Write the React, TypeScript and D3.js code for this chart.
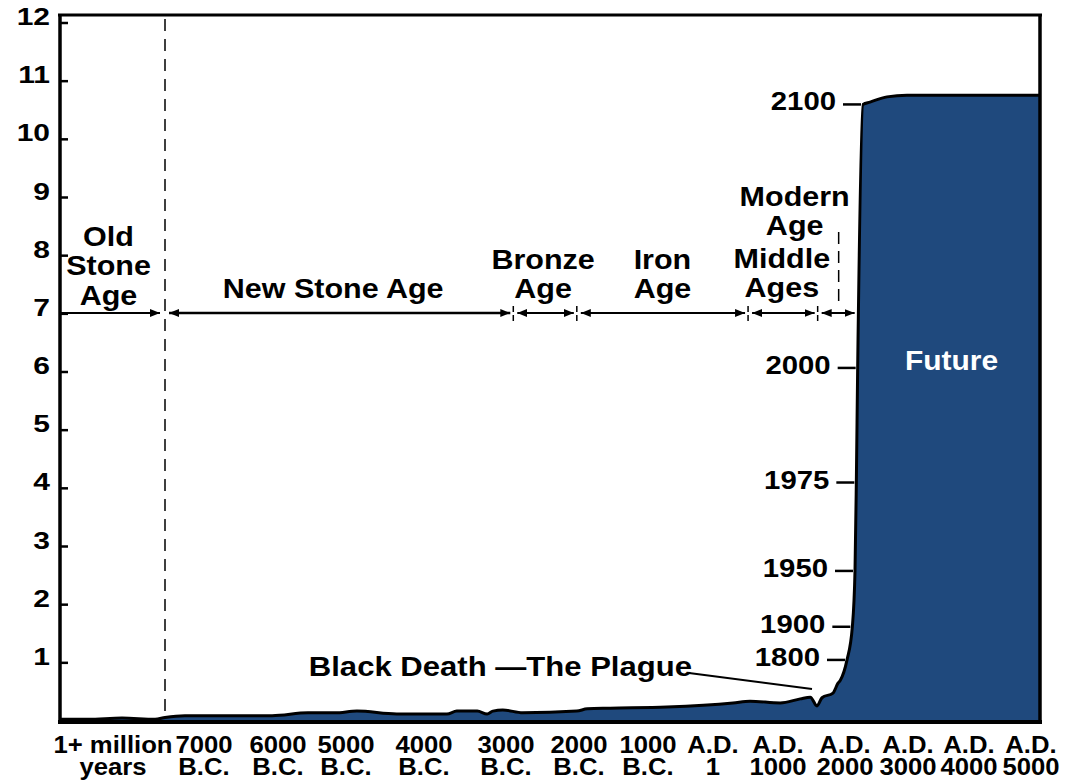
import * as d3 from "d3";

// timeline knots (years) and where the chart puts them; the chart is not to scale
const yearKnots = [-1000000, -8000, -7000, -6000, -5000, -4000, -3000, -2000, -1000, 1, 1000, 1350, 1800, 2100, 3000, 4000, 5000];
const knotPx = [60, 165, 204, 278, 346, 424, 506, 579, 648, 713, 778, 817, 847, 863, 908, 969, 1031];

// world population, billions
const popYears = [-1000000, -735000, -414000, -102000, -8000, -7490, -6990, -6080, -5560, -5160, -4860, -4350, -3720, -3600, -3350, -3230, -3160, -3040, -2770, -2030, -1880, -1550, -710, 310, 570, 1020, 1200, 1290, 1350, 1425, 1590, 1665, 1700, 1800, 1900, 1950, 1975, 2000, 2100, 2240, 2580, 2980, 5145];
const popBillions = [0.03, 0.03, 0.05, 0.03, 0.06, 0.09, 0.09, 0.09, 0.14, 0.14, 0.17, 0.12, 0.12, 0.17, 0.17, 0.12, 0.17, 0.19, 0.14, 0.17, 0.21, 0.22, 0.24, 0.31, 0.34, 0.31, 0.38, 0.41, 0.26, 0.4, 0.48, 0.65, 0.7, 1.05, 1.62, 2.58, 4.1, 6.07, 10.6, 10.64, 10.73, 10.76, 10.76];

const markedYears = [1800, 1900, 1950, 1975, 2000, 2100];
const yTicks = [1, 2, 3, 4, 5, 6, 7, 8, 9, 10, 11, 12];

const xTickTop = ["1+ million", "7000", "6000", "5000", "4000", "3000", "2000", "1000", "A.D.", "A.D.", "A.D.", "A.D.", "A.D.", "A.D."];
const xTickBottom = ["years", "B.C.", "B.C.", "B.C.", "B.C.", "B.C.", "B.C.", "B.C.", "1", "1000", "2000", "3000", "4000", "5000"];
const xTickPx = [113, 204, 278, 346, 424, 506, 579, 648, 713, 778, 845, 908, 969, 1031];

const eraNames = [["Old", "Stone", "Age"], ["New Stone Age"], ["Bronze", "Age"], ["Iron", "Age"], ["Middle", "Ages"], ["Modern", "Age"]];
const eraStart = [-1000000, -8000, -2900, -2030, 540, 1360];
const eraEnd = [-8000, -2900, -2030, 540, 1360, 2000];
const eraLabelBottom = [305, 298, 298, 298, 297, 235];
const eraLabelDx = [-4, -6, -2, 0, -1, -43];

const FONT = "'Liberation Sans', Arial, Helvetica, sans-serif";
const BLUE = "#1F497D";

type P = { yr: number; v: number };

// bold text, slightly stretched horizontally like the original; lines stack downward from y
function Label({ x, y, lines, size, sx = 1.13, anchor = "middle", fill = "#000", lh = 0 }: any) {
  const ls: any[] = Array.isArray(lines) ? lines : [lines];
  return (
    <text transform={`translate(${x},${y}) scale(${sx},1)`} textAnchor={anchor}
          fontSize={size} fontWeight="bold" fontFamily={FONT} fill={fill}>
      {ls.map((s, i) => <tspan key={i} x={0} dy={i === 0 ? 0 : lh}>{s}</tspan>)}
    </text>
  );
}

export default function App() {
  const W = 1086, H = 783;
  const x = d3.scaleLinear().domain(yearKnots).range(knotPx);
  const y = d3.scaleLinear().domain([0, 12]).range([721, 23]);
  const tickX = d3.scaleOrdinal<number, number>().domain(d3.range(xTickPx.length)).range(xTickPx);

  const data: P[] = popYears.map((yr, i) => ({ yr, v: popBillions[i] }));
  const area = d3.area<P>().x(d => x(d.yr)).y0(y(0)).y1(d => y(d.v)).curve(d3.curveMonotoneX);
  const line = d3.line<P>().x(d => x(d.yr)).y(d => y(d.v)).curve(d3.curveMonotoneX);
  const marks = data.filter(d => markedYears.includes(d.yr));

  const left = x(yearKnots[0]), right = 1040, top = 15, bottom = y(0);
  const arrowY = 313;
  const plague = data.find(d => d.yr === 1350)!;
  const modernMid = (x(eraStart[5]) + x(eraEnd[5])) / 2 + 1;

  return (
    <svg width={W} height={H} style={{ position: "absolute", left: 0, top: 0, background: "#fff" }}>
      <defs>
        <marker id="ah" viewBox="0 0 10 8" refX="10" refY="4" markerWidth="10" markerHeight="8"
                markerUnits="userSpaceOnUse" orient="auto-start-reverse">
          <path d="M0,0 L10,4 L0,8 z" fill="#000"/>
        </marker>
      </defs>

      {/* population area */}
      <path d={area(data)!} fill={BLUE}/>
      <path d={line(data)!} fill="none" stroke="#000" strokeWidth={3} strokeLinejoin="round"/>

      {/* frame */}
      <line x1={left - 2} x2={right + 2} y1={top} y2={top} stroke="#000" strokeWidth={3}/>
      <line x1={right} x2={right} y1={top} y2={bottom + 1} stroke="#000" strokeWidth={3.5}/>
      <line x1={left} x2={left} y1={top} y2={bottom + 1} stroke="#000" strokeWidth={3.5}/>
      <line x1={left - 2} x2={right + 2} y1={bottom + 1} y2={bottom + 1} stroke="#000" strokeWidth={4}/>

      {/* y axis */}
      {yTicks.map(t => (
        <g key={t}>
          <line x1={left} x2={left + 8} y1={y(t)} y2={y(t)} stroke="#000" strokeWidth={2.5}/>
          <Label x={50} y={y(t) + 2} lines={String(t)} size={24} sx={1.25} anchor="end"/>
        </g>
      ))}

      {/* x axis labels */}
      {xTickTop.map((t, i) => (
        <Label key={i} x={tickX(i)} y={753} lines={[t, xTickBottom[i]]} lh={22} size={24} sx={1.07}/>
      ))}

      {/* eras */}
      <line x1={x(eraEnd[0])} x2={x(eraEnd[0])} y1={top + 4} y2={bottom - 3} stroke="#000"
            strokeWidth={1.5} strokeDasharray="12,8"/>
      {eraNames.map((lines, i) => {
        const x0 = x(eraStart[i]), x1 = x(eraEnd[i]);
        const mid = (x0 + x1) / 2;
        const sw = i === 1 ? 2.6 : 2;
        return (
          <g key={i}>
            <line x1={i === 0 ? x0 : x0 + 4} x2={x1 - (i === 0 ? 5 : 3)} y1={arrowY} y2={arrowY}
                  stroke="#000" strokeWidth={sw}
                  markerStart={i === 0 ? undefined : "url(#ah)"} markerEnd="url(#ah)"/>
            {i > 0 && i < eraNames.length - 1 && (
              <line x1={x1} x2={x1} y1={arrowY - 7} y2={arrowY + 8} stroke="#000" strokeWidth={1.5}
                    strokeDasharray="6,3"/>
            )}
            <Label x={mid + eraLabelDx[i]} y={eraLabelBottom[i] - (lines.length - 1) * 29.5}
                   lines={lines} lh={29.5} size={27} sx={1.13}/>
          </g>
        );
      })}
      {/* leader for the Modern Age label */}
      <line x1={modernMid} x2={modernMid} y1={232} y2={arrowY - 8} stroke="#000" strokeWidth={1.5}
            strokeDasharray="12,7"/>

      {/* year markers on the curve */}
      {marks.map(d => (
        <g key={d.yr}>
          <line x1={x(d.yr) - 20} x2={x(d.yr) - 2} y1={y(d.v)} y2={y(d.v)} stroke="#000" strokeWidth={2.5}/>
          <Label x={x(d.yr) - 27} y={y(d.v) + 6} lines={String(d.yr)} size={25.5} sx={1.15} anchor="end"/>
        </g>
      ))}

      {/* Black Death */}
      <Label x={692} y={676} lines="Black Death —The Plague" size={27.5} sx={1.13} anchor="end"/>
      <line x1={689} y1={673} x2={x(plague.yr) - 5} y2={y(0.55)} stroke="#000" strokeWidth={2}/>

      <Label x={(x(2100) + right) / 2} y={370} lines="Future" size={28} sx={1.07} fill="#fff"/>
    </svg>
  );
}
